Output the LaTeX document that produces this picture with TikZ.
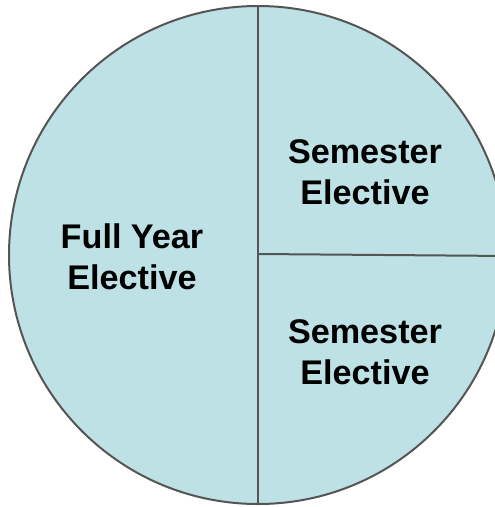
\documentclass[tikz,border=0pt]{standalone}
\usepackage{fontspec}
\setmainfont{Liberation Sans}
\definecolor{pie}{HTML}{BDE1E5}
\definecolor{edge}{HTML}{555555}
\begin{document}
\begin{tikzpicture}[x=1pt,y=-1pt,
  lbl/.style={font=\bfseries\fontsize{34.2}{40.5}\selectfont, align=center, text=black, inner sep=0pt}]
\useasboundingbox (0,0) rectangle (495,507);
\clip (0,0) rectangle (495,507);
\node[circle, fill=pie, draw=edge, line width=2pt, minimum size=498pt, inner sep=0pt] (c) at (258,255) {};
\coordinate (top) at (258,5);
\coordinate (bot) at (258,505);
\coordinate (mid) at (258,254);
\coordinate (right) at (510,256);
\draw[edge, line width=2pt] (top) -- (bot);
\draw[edge, line width=2pt] (mid) -- (right);
\node[lbl] (fy) at (132,257) {Full Year\\Elective};
\node[lbl] (s1) at (365,172) {Semester\\Elective};
\node[lbl] (s2) at (365,352) {Semester\\Elective};
\end{tikzpicture}
\end{document}
